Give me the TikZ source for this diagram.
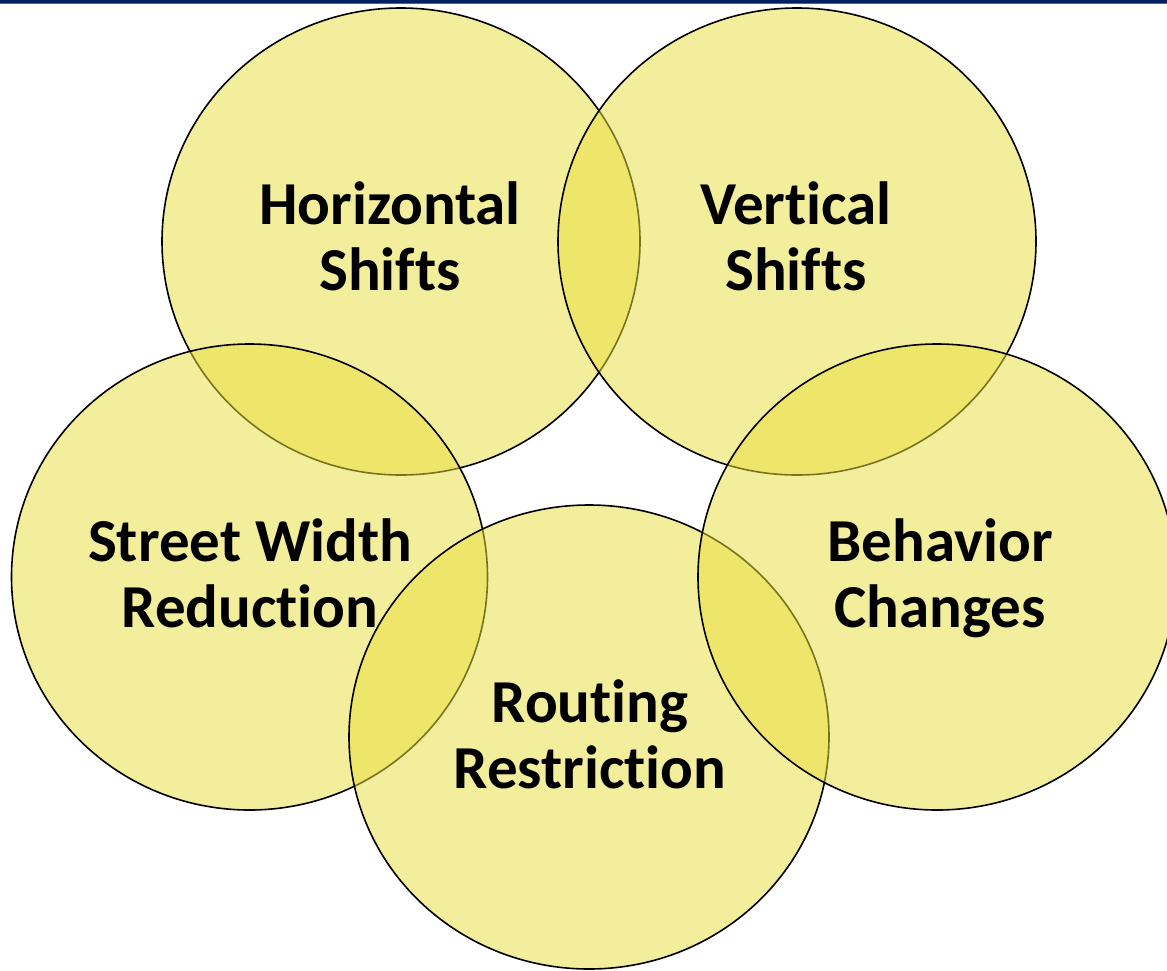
\documentclass[tikz,border=0pt]{standalone}
\usepackage{fontspec}
\setmainfont{Carlito}[Ligatures={NoCommon,NoContextual}]
\usetikzlibrary{shapes.geometric}
\definecolor{barblue}{RGB}{0,32,96}
\definecolor{barline}{RGB}{70,100,150}
\definecolor{ringfill}{RGB}{232,222,63}
\tikzset{
  ring/.style={ellipse, draw=black, line width=1.6pt, fill=ringfill, fill opacity=0.52, inner sep=0pt},
  lbl/.style={align=center, anchor=base, inner sep=0pt, text=black,
    font=\bfseries\fontsize{61}{65.5}\selectfont}
}
\begin{document}
\begin{tikzpicture}[x=1pt,y=-1pt]
\useasboundingbox (0,0) rectangle (1167,970);
\fill[barblue] (0,0) rectangle (1167,3.2);
\fill[barline] (0,3.2) rectangle (1167,4.2);
\node[ring, minimum width=478pt, minimum height=467pt] (hc) at (401,241.5) {};
\node[ring, minimum width=478pt, minimum height=467pt] (vc) at (797,241.5) {};
\node[ring, minimum width=476pt, minimum height=466pt] (sc) at (249.5,577) {};
\node[ring, minimum width=480pt, minimum height=464pt] (rc) at (589,737) {};
\node[ring, minimum width=478pt, minimum height=466pt] (bc) at (937,577) {};
\node[lbl] (ht) at (390,290) {Horizontal\\Shifts};
\node[lbl] (vt) at (796,290) {Vertical\\Shifts};
\node[lbl] (st) at (250,627) {Street Width\\Reduction};
\node[lbl] (bt) at (940,627) {Behavior\\Changes};
\node[lbl] (rt) at (590,788) {Routing\\Restriction};
\end{tikzpicture}
\end{document}
